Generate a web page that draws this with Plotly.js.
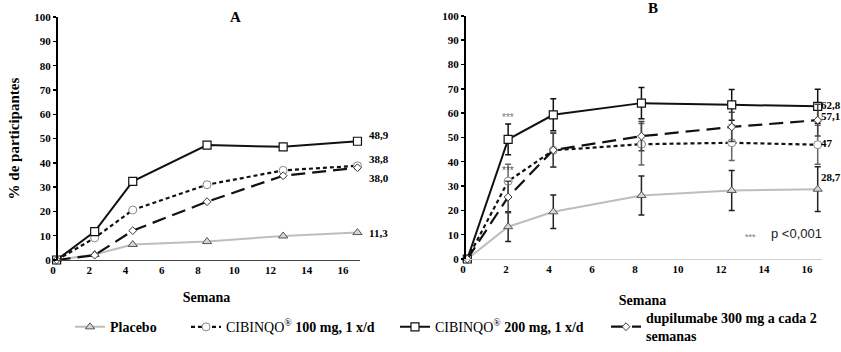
<!DOCTYPE html>
<html>
<head>
<meta charset="utf-8">
<script src="https://cdn.plot.ly/plotly-3.0.1.min.js"></script>
<style>html,body{margin:0;padding:0;background:#fff;}#chart{width:841px;height:352px;}</style>
</head>
<body>
<div id="chart"></div>
<script>
// Week positions as drawn (panel A and panel B)
const weeksA = [0.2, 2.3, 4.4, 8.5, 12.7, 16.8];
const weeksB = [0.2, 2.1, 4.2, 8.3, 12.5, 16.5];
const xTicks = [0, 2, 4, 6, 8, 10, 12, 14, 16];
const yTicks = [0, 10, 20, 30, 40, 50, 60, 70, 80, 90, 100];

// Panel A values (% de participantes)
const placeboA = [0, 2.3, 6.4, 7.6, 9.9, 11.3];
const cib100A  = [0, 9.1, 20.6, 31.0, 36.9, 38.8];
const cib200A  = [0, 11.7, 32.4, 47.3, 46.6, 48.9];
const dupiA    = [0, 2.0, 12.1, 24.0, 34.7, 38.0];

// Panel B values and error bars
const placeboB = [0, 13.3, 19.4, 26.1, 28.2, 28.7];
const cib100B  = [0, 32.0, 44.7, 47.2, 47.8, 47.0];
const cib200B  = [0, 49.2, 59.3, 64.1, 63.4, 62.8];
const dupiB    = [0, 25.5, 44.8, 50.5, 54.3, 57.1];
const placeboBErr = [0, 6.1, 6.9, 8.0, 8.2, 9.2];
const cib100BErr  = [0, 7.0, 7.0, 8.5, 7.3, 8.0];
const cib200BErr  = [0, 6.3, 6.6, 6.4, 6.3, 7.0];
const dupiBErr    = [0, 6.5, 7.0, 6.0, 6.0, 6.5];

// End labels
const endLabelsA = {placebo: '11,3', cib100: '38,8', cib200: '48,9', dupi: '38,0'};
const endLabelsB = {placebo: '28,7', cib100: '47', cib200: '62,8', dupi: '57,1'};

const names = {
  placebo: '<b>Placebo</b>',
  cib100: 'CIBINQO<sup>®</sup> <b>100 mg, 1 x/d</b>',
  cib200: 'CIBINQO<sup>®</sup> <b>200 mg, 1 x/d</b>',
  dupi: '<b>dupilumabe 300 mg a cada 2<br>semanas</b>'
};

const serif = 'Liberation Serif';

const styles = {
  placebo: {line: {color: '#bdbdbd', width: 2}, marker: {symbol: 'triangle-up', size: 8, color: '#d6d6d6', line: {color: '#555', width: 1}}, err: '#222', legend: 'legend'},
  cib100: {line: {color: '#111', width: 2.2, dash: '4px,3px'}, marker: {symbol: 'circle', size: 8, color: '#fff', line: {color: '#888', width: 1}}, err: '#666', legend: 'legend2'},
  cib200: {line: {color: '#111', width: 2}, marker: {symbol: 'square', size: 8, color: '#fff', line: {color: '#111', width: 1.2}}, err: '#111', legend: 'legend3'},
  dupi: {line: {color: '#111', width: 2.2, dash: '14px,7px'}, marker: {symbol: 'diamond', size: 6, color: '#fff', line: {color: '#333', width: 1}}, err: '#444', legend: 'legend4'}
};

const dataA = {placebo: placeboA, cib100: cib100A, cib200: cib200A, dupi: dupiA};
const dataB = {placebo: placeboB, cib100: cib100B, cib200: cib200B, dupi: dupiB};
const errB = {placebo: placeboBErr, cib100: cib100BErr, cib200: cib200BErr, dupi: dupiBErr};
const order = ['placebo', 'cib100', 'cib200', 'dupi'];

const traces = [];
order.forEach(k => {
  const s = styles[k];
  traces.push({
    x: weeksA, y: dataA[k], xaxis: 'x', yaxis: 'y', type: 'scatter', mode: 'lines+markers',
    name: names[k], legend: s.legend, showlegend: true,
    line: s.line, marker: s.marker, cliponaxis: false, hoverinfo: 'skip'
  });
});
order.forEach(k => {
  const s = styles[k];
  traces.push({
    x: weeksB, y: dataB[k], xaxis: 'x2', yaxis: 'y2', type: 'scatter', mode: 'lines+markers',
    name: names[k], showlegend: false,
    line: s.line, marker: s.marker, cliponaxis: false, hoverinfo: 'skip',
    error_y: {type: 'data', array: errB[k], visible: true, color: s.err, thickness: 1.5, width: 3}
  });
});

const tickFont = {family: serif, size: 11, color: '#000', weight: 'bold'};
const W = 841, H = 352;
const px = v => v / W, py = v => 1 - v / H;

const annotations = [];
const endA = {placebo: [10, 0], cib100: [10, 7], cib200: [10, 6], dupi: [10, -10]};
const endB = {placebo: [1, 12], cib100: [1, 2], cib200: [1, 1], dupi: [1, 4]};
order.forEach(k => {
  annotations.push({x: weeksA[5], y: dataA[k][5], xref: 'x', yref: 'y', text: '<b>' + endLabelsA[k] + '</b>',
    showarrow: false, xanchor: 'left', yanchor: 'middle', xshift: endA[k][0], yshift: endA[k][1],
    font: {family: serif, size: 11, color: '#000'}});
  annotations.push({x: weeksB[5], y: dataB[k][5], xref: 'x2', yref: 'y2', text: '<b>' + endLabelsB[k] + '</b>',
    showarrow: false, xanchor: 'left', yanchor: 'middle', xshift: endB[k][0], yshift: endB[k][1],
    font: {family: serif, size: 11, color: '#000'}});
});
annotations.push(
  {x: px(228), y: py(17), xref: 'paper', yref: 'paper', text: '<b>A</b>', showarrow: false, yanchor: 'middle',
   font: {family: serif, size: 15, color: '#000'}},
  {x: px(660), y: py(8), xref: 'paper', yref: 'paper', text: '<b>B</b>', showarrow: false, yanchor: 'middle',
   font: {family: serif, size: 15, color: '#000'}},
  {x: weeksB[1], y: cib200B[1], xref: 'x2', yref: 'y2', text: '***', showarrow: false, yshift: 22, yanchor: 'middle',
   font: {family: 'Liberation Sans', size: 10, color: '#777'}},
  {x: weeksB[1], y: cib100B[1], xref: 'x2', yref: 'y2', text: '***', showarrow: false, yshift: 11, yanchor: 'middle',
   font: {family: 'Liberation Sans', size: 10, color: '#555'}},
  {x: px(758), y: py(240), xref: 'paper', yref: 'paper', text: '***', showarrow: false, yanchor: 'middle',
   font: {family: 'Liberation Sans', size: 9, color: '#777'}},
  {x: px(769), y: py(236), xref: 'paper', yref: 'paper', text: 'p <0,001', showarrow: false, xanchor: 'left', yanchor: 'middle',
   font: {family: 'Liberation Sans', size: 13, color: '#222'}}
);

const legendBase = {orientation: 'h', xanchor: 'left', yanchor: 'middle', y: py(331), bgcolor: 'rgba(0,0,0,0)',
  font: {family: serif, size: 14, color: '#000'}, itemwidth: 30, valign: 'middle'};

const layout = {
  width: W, height: H,
  margin: {l: 0, r: 0, t: 0, b: 0},
  paper_bgcolor: '#fff', plot_bgcolor: '#fff',
  showlegend: true,
  xaxis: {domain: [px(53), px(360)], range: [0, 16.94], anchor: 'y', tickvals: xTicks, ticks: '',
    showgrid: false, zeroline: false, showline: true, linecolor: '#444', linewidth: 1, tickfont: tickFont,
    title: {text: '<b>Semana</b>', font: {family: serif, size: 14, color: '#000'}, standoff: 16}},
  yaxis: {domain: [py(263), py(17.3)], range: [0, 100], anchor: 'free', position: px(57), tickvals: yTicks,
    ticks: 'outside', ticklen: 3, tickwidth: 1.5, tickcolor: '#000',
    showgrid: false, zeroline: false, showline: true, linecolor: '#000', linewidth: 2, tickfont: tickFont,
    title: {text: '<b>% de participantes</b>', font: {family: serif, size: 15, color: '#000'}, standoff: 10}},
  xaxis2: {domain: [px(463), px(822)], range: [0, 16.7], anchor: 'y2', tickvals: xTicks, ticks: '',
    showgrid: false, zeroline: false, showline: true, linecolor: '#cfcfcf', linewidth: 1, tickfont: tickFont,
    title: {text: '<b>Semana</b>', font: {family: serif, size: 14, color: '#000'}, standoff: 20}},
  yaxis2: {domain: [py(262), py(16)], range: [0, 100], anchor: 'free', position: px(465), tickvals: yTicks,
    ticks: 'outside', ticklen: 3, tickwidth: 1.5, tickcolor: '#000',
    showgrid: false, zeroline: false, showline: true, linecolor: '#000', linewidth: 2, tickfont: tickFont},
  legend: Object.assign({}, legendBase, {x: px(70)}),
  legend2: Object.assign({}, legendBase, {x: px(186)}),
  legend3: Object.assign({}, legendBase, {x: px(395)}),
  legend4: Object.assign({}, legendBase, {x: px(606)}),
  annotations: annotations
};

Plotly.newPlot('chart', traces, layout, {staticPlot: true, displayModeBar: false});
</script>
</body>
</html>
